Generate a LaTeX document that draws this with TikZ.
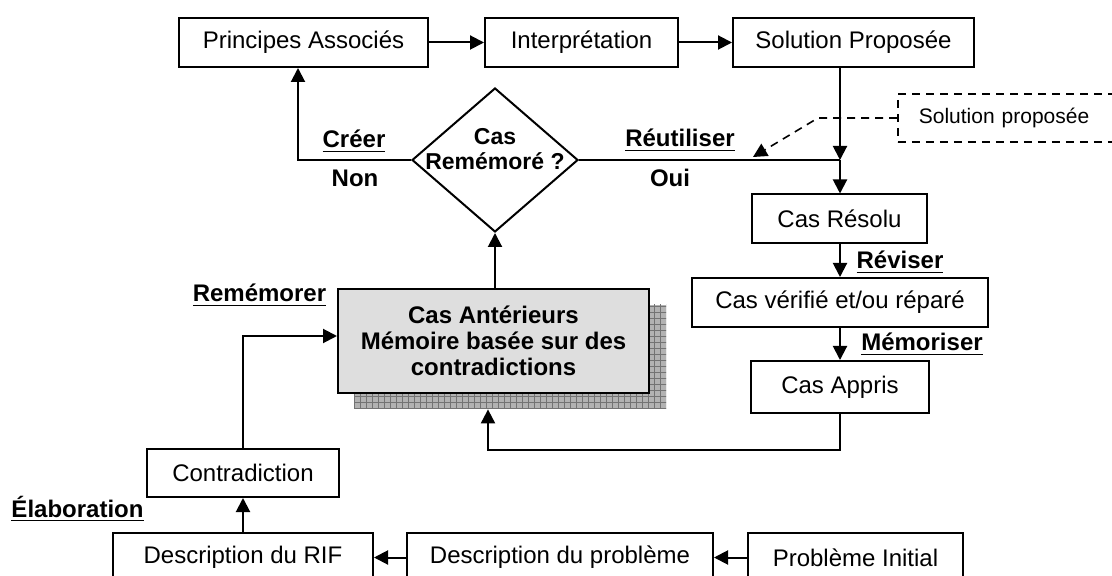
\documentclass[tikz,border=0pt]{standalone}
\usepackage{fontspec}
\setmainfont{Liberation Sans}
\usetikzlibrary{shapes.geometric,arrows.meta,patterns}
\newcommand{\souligne}[1]{\setbox0\hbox{#1}\rlap{\rule[-2.2pt]{\wd0}{0.9pt}}\box0}

\begin{document}
\begin{tikzpicture}[x=0.5pt,y=-0.5pt,
  boite/.style={draw,line width=1pt,inner sep=0pt,minimum height=24.5pt,font=\fontsize{12}{13}\selectfont},
  fleche/.style={line width=1pt,-{Triangle[length=7pt,width=7pt]}},
  trait/.style={line width=1pt},
  etiq/.style={inner sep=0pt,anchor=base,font=\bfseries\fontsize{12}{13}\selectfont},
  tirets/.style={line width=0.8pt,dash pattern=on 4pt off 3pt}]
\useasboundingbox (0,0) rectangle (1112,576);

\node[boite,minimum width=124.5pt] (pa) at (303.5,42.5) {Principes Associés};
\node[boite,minimum width=96.5pt] (interp) at (581.5,42.5) {Interprétation};
\node[boite,minimum width=120.5pt] (solprop) at (853.5,42.5) {Solution Proposée};
\node[draw,diamond,line width=1pt,inner sep=0pt,minimum width=83pt,minimum height=72pt] (cas) at (495,160) {};
\node[etiq,anchor=center,align=center,font=\bfseries\fontsize{11.5}{12.8}\selectfont] (castexte) at (495,149) {Cas\\Remémoré~?};
\node[boite,minimum width=87.5pt] (resolu) at (839.5,219) {Cas Résolu};
\node[boite,minimum width=148pt] (verifie) at (840,302.5) {Cas vérifié et/ou réparé};
\node[boite,minimum width=89pt,minimum height=26pt] (appris) at (840,387) {Cas Appris};
\node[inner sep=0pt,minimum width=156pt,minimum height=52pt,preaction={fill=gray!60},pattern=grid,pattern color=black!55] (ombre) at (510,357) {};
\node[boite,fill=black!13,minimum width=155.5pt,minimum height=52pt,align=center,font=\bfseries\fontsize{12}{13}\selectfont] (ante) at (493.5,341) {Cas Antérieurs\\Mémoire basée sur des\\contradictions};
\node[boite,minimum width=96pt,minimum height=24pt] (contra) at (243,473) {Contradiction};
\node[boite,minimum width=130pt] (rif) at (243,557.5) {Description du RIF};
\node[boite,minimum width=153pt] (descprob) at (560,557.5) {Description du problème};
\node[boite,minimum width=107.5pt] (probinit) at (855.5,557.5) {Problème Initial};
\node[draw,tirets,anchor=west,minimum height=24pt,text width=95pt,inner xsep=10.5pt,font=\fontsize{10.5}{12}\selectfont] (rappel) at (897,118) {Solution proposée};

\node[etiq] (creer) at (354,148) {\souligne{Créer}};
\node[etiq] (non) at (355,187) {Non};
\node[etiq] (reutiliser) at (680,147) {\souligne{Réutiliser}};
\node[etiq] (oui) at (670,187) {Oui};
\node[etiq] (rememorer) at (259.5,302) {\souligne{Remémorer}};
\node[etiq] (reviser) at (900,269) {\souligne{Réviser}};
\node[etiq] (memoriser) at (922,351) {\souligne{Mémoriser}};
\node[etiq] (elaboration) at (77.5,517) {\souligne{Élaboration}};

\coordinate (jonction) at (840,160);
\coordinate (coude) at (298,160);
\coordinate (retour) at (488,450);
\coordinate (angle) at (818,118);
\coordinate (pointe) at (753,157);

\draw[fleche] (pa) -- (interp);
\draw[fleche] (interp) -- (solprop);
\draw[fleche] (cas.west) -| (coude |- pa.south);
\draw[trait] (cas.east) -- (jonction);
\draw[fleche] (solprop.south -| jonction) -- (jonction);
\draw[fleche] (jonction) -- (resolu.north -| jonction);
\draw[fleche] (resolu.south -| jonction) -- (verifie.north -| jonction);
\draw[fleche] (verifie.south -| jonction) -- (appris.north -| jonction);
\draw[fleche] (appris.south) |- (retour) -- (retour |- ombre.south);
\draw[fleche] (ante.north -| cas) -- (cas.south);
\draw[fleche] (contra.north) |- ([yshift=2.5pt]ante.west);
\draw[fleche] (rif) -- (contra);
\draw[fleche] (probinit) -- (descprob);
\draw[fleche] (descprob) -- (rif);
\draw[fleche,tirets] (rappel.west) -- (angle) -- (pointe);
\end{tikzpicture}
\end{document}
